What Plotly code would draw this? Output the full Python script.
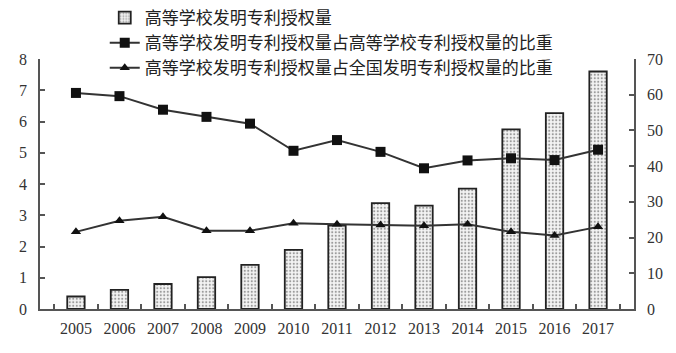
import plotly.graph_objects as go

years = ["2005", "2006", "2007", "2008", "2009", "2010", "2011",
         "2012", "2013", "2014", "2015", "2016", "2017"]
grants = [0.40, 0.61, 0.80, 1.02, 1.41, 1.89, 2.67, 3.39, 3.31, 3.85, 5.75, 6.27, 7.60]
share_univ = [60.5, 59.6, 55.8, 53.8, 51.9, 44.3, 47.3, 44.0, 39.4, 41.6, 42.2, 41.7, 44.6]
share_nation = [21.6, 24.7, 25.8, 21.9, 21.9, 24.0, 23.7, 23.5, 23.3, 23.7, 21.6, 20.6, 23.0]

names = ["高等学校发明专利授权量",
         "高等学校发明专利授权量占高等学校专利授权量的比重",
         "高等学校发明专利授权量占全国发明专利授权量的比重"]

line_col = "#333333"
axis_col = "#555555"

fig = go.Figure()
fig.add_trace(go.Bar(
    x=years, y=grants, name=names[0], width=0.4,
    marker=dict(color="#f2f2f2", line=dict(color="#222222", width=1.8),
                pattern=dict(shape=".", fgcolor="#444444", bgcolor="#f4f4f4",
                             size=3.5, solidity=0.3)),
))
fig.add_trace(go.Scatter(
    x=years, y=share_univ, name=names[1], yaxis="y2", mode="lines+markers",
    line=dict(color=line_col, width=2),
    marker=dict(symbol="square", size=10, color="#111111"),
))
fig.add_trace(go.Scatter(
    x=years, y=share_nation, name=names[2], yaxis="y2", mode="lines+markers",
    line=dict(color=line_col, width=2),
    marker=dict(symbol="triangle-up", size=9, color="#111111"),
))

tickfont = dict(family="Liberation Serif, Times New Roman, serif", size=16, color="#333333")

fig.update_layout(
    width=676, height=353,
    margin=dict(l=40, r=42, t=59, b=44, autoexpand=False),
    paper_bgcolor="white", plot_bgcolor="white",
    bargap=0.6,
    xaxis=dict(
        type="category", showline=True, linecolor=axis_col, linewidth=1.5,
        ticks="inside", tickson="boundaries", ticklen=5, tickcolor=axis_col, tickwidth=1.5,
        tickfont=tickfont, showgrid=False, ticklabelstandoff=4,
    ),
    yaxis=dict(
        range=[0, 8], dtick=1, showline=True, linecolor=axis_col, linewidth=1.5,
        ticks="inside", ticklen=5, tickcolor=axis_col, tickwidth=1.5,
        tickfont=tickfont, showgrid=False, zeroline=False, ticklabelstandoff=8,
    ),
    yaxis2=dict(
        range=[0, 70], dtick=10, overlaying="y", side="right",
        showline=True, linecolor=axis_col, linewidth=1.5,
        ticks="inside", ticklen=5, tickcolor=axis_col, tickwidth=1.5,
        tickfont=tickfont, showgrid=False, zeroline=False, ticklabelstandoff=8,
    ),
    legend=dict(
        x=0.109, y=1.0, yref="container", xanchor="left", yanchor="top",
        bgcolor="rgba(255,255,255,0)",
        font=dict(family="Noto Sans CJK SC", size=17, color="#222222"),
        tracegroupgap=0, itemwidth=30,
    ),
    showlegend=True,
)

fig.write_html("out.html")
